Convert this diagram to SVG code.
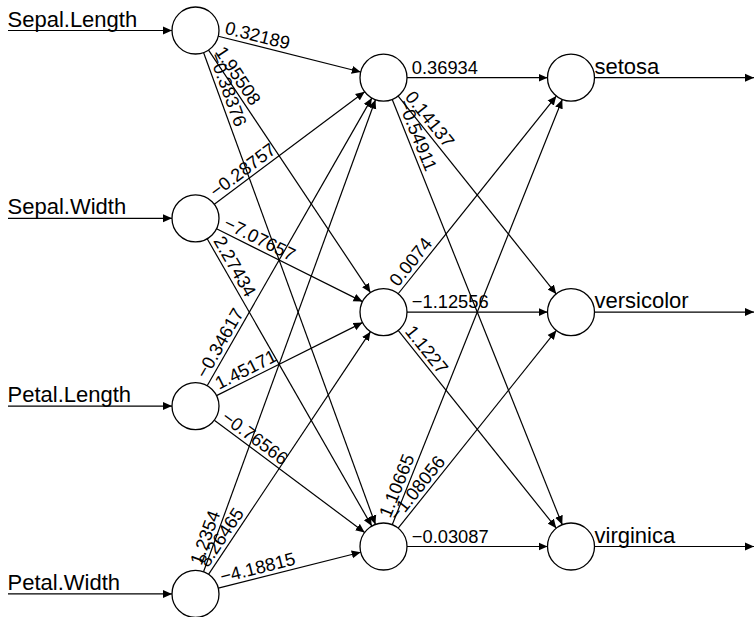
<svg xmlns="http://www.w3.org/2000/svg" width="754" height="617" viewBox="0 0 754 617">
<style>
.c{fill:#fff;stroke:#000;stroke-width:1.3}
.e{stroke:#000;stroke-width:1.2;fill:none;marker-end:url(#ah)}
.w{font-family:"Liberation Sans",Arial,sans-serif;font-size:18.3px;fill:#000}
.n{font-family:"Liberation Sans",Arial,sans-serif;font-size:22px;fill:#000}
</style>
<defs>
<marker id="ah" markerWidth="10" markerHeight="9" refX="9" refY="4.5" orient="auto" markerUnits="userSpaceOnUse"><path d="M0,0.5 L9,4.5 L0,8.5 z" fill="#000"/></marker>
</defs>
<rect width="754" height="617" fill="#fff"/>
<g id="connectors">
<line class="e" x1="8" y1="30.5" x2="172" y2="30.5"/>
<line class="e" x1="8" y1="218.3" x2="172" y2="218.3"/>
<line class="e" x1="8" y1="406.1" x2="172" y2="406.1"/>
<line class="e" x1="8" y1="593.9" x2="172" y2="593.9"/>
<line class="e" x1="218.29" y1="36.22" x2="360.71" y2="71.98"/>
<line class="e" x1="208.55" y1="50.05" x2="370.45" y2="292.55"/>
<line class="e" x1="203.54" y1="52.58" x2="375.46" y2="524.42"/>
<line class="e" x1="214.32" y1="204.23" x2="364.68" y2="91.77"/>
<line class="e" x1="216.53" y1="228.79" x2="362.47" y2="301.61"/>
<line class="e" x1="207.18" y1="238.69" x2="371.82" y2="526.11"/>
<line class="e" x1="207.18" y1="385.71" x2="371.82" y2="98.09"/>
<line class="e" x1="216.52" y1="395.59" x2="362.48" y2="322.61"/>
<line class="e" x1="214.33" y1="420.16" x2="364.67" y2="532.44"/>
<line class="e" x1="203.54" y1="571.82" x2="375.46" y2="99.78"/>
<line class="e" x1="208.54" y1="574.35" x2="370.46" y2="331.65"/>
<line class="e" x1="218.29" y1="588.15" x2="360.71" y2="552.25"/>
<line class="e" x1="407" y1="77.7" x2="547.5" y2="77.7"/>
<line class="e" x1="398.18" y1="96.05" x2="556.32" y2="294.05"/>
<line class="e" x1="392.23" y1="99.52" x2="562.27" y2="524.68"/>
<line class="e" x1="398.18" y1="293.75" x2="556.32" y2="96.05"/>
<line class="e" x1="407" y1="312.1" x2="547.5" y2="312.1"/>
<line class="e" x1="398.18" y1="330.45" x2="556.32" y2="528.15"/>
<line class="e" x1="392.23" y1="524.68" x2="562.27" y2="99.52"/>
<line class="e" x1="398.18" y1="528.15" x2="556.32" y2="330.45"/>
<line class="e" x1="407" y1="546.5" x2="547.5" y2="546.5"/>
<line class="e" x1="594.5" y1="77.7" x2="754" y2="77.7"/>
<line class="e" x1="594.5" y1="312.1" x2="754" y2="312.1"/>
<line class="e" x1="594.5" y1="546.5" x2="754" y2="546.5"/>
<g class="w">
<text transform="translate(195.5,30.5) rotate(14.09)" x="28.3" y="-4">0.32189</text>
<text transform="translate(195.5,30.5) rotate(56.27)" x="28.3" y="-4">1.95508</text>
<text transform="translate(195.5,30.5) rotate(69.98)" x="28.3" y="-4">−0.38376</text>
<text transform="translate(195.5,218.3) rotate(-36.79)" x="28.3" y="-4">−0.28757</text>
<text transform="translate(195.5,218.3) rotate(26.52)" x="28.3" y="-4">−7.07657</text>
<text transform="translate(195.5,218.3) rotate(60.20)" x="28.3" y="-4">2.27434</text>
<text transform="translate(195.5,406.1) rotate(-60.21)" x="28.3" y="-4">−0.34617</text>
<text transform="translate(195.5,406.1) rotate(-26.57)" x="28.3" y="-4">1.45171</text>
<text transform="translate(195.5,406.1) rotate(36.75)" x="28.3" y="-4">−0.76566</text>
<text transform="translate(195.5,593.9) rotate(-69.99)" x="28.3" y="-4">1.2354</text>
<text transform="translate(195.5,593.9) rotate(-56.29)" x="28.3" y="-4">8.26465</text>
<text transform="translate(195.5,593.9) rotate(-14.15)" x="28.3" y="-4">−4.18815</text>
<text transform="translate(383.5,77.7)" x="28.3" y="-4">0.36934</text>
<text transform="translate(383.5,77.7) rotate(51.34)" x="28.3" y="-4">0.14137</text>
<text transform="translate(383.5,77.7) rotate(68.20)" x="28.3" y="-4">−0.54911</text>
<text transform="translate(383.5,312.1) rotate(-51.34)" x="28.3" y="-4">0.0074</text>
<text transform="translate(383.5,312.1)" x="28.3" y="-4">−1.12556</text>
<text transform="translate(383.5,312.1) rotate(51.34)" x="28.3" y="-4">1.1227</text>
<text transform="translate(383.5,546.5) rotate(-68.20)" x="28.3" y="-4">1.10665</text>
<text transform="translate(383.5,546.5) rotate(-51.34)" x="28.3" y="-4">−1.08056</text>
<text transform="translate(383.5,546.5)" x="28.3" y="-4">−0.03087</text>
</g>
</g>
<g id="in-sepal-length"><circle class="c" cx="195.5" cy="30.5" r="23.5"/><text class="n" x="7.5" y="26.5">Sepal.Length</text></g>
<g id="in-sepal-width"><circle class="c" cx="195.5" cy="218.3" r="23.5"/><text class="n" x="7.5" y="214.3">Sepal.Width</text></g>
<g id="in-petal-length"><circle class="c" cx="195.5" cy="406.1" r="23.5"/><text class="n" x="7.5" y="402.1">Petal.Length</text></g>
<g id="in-petal-width"><circle class="c" cx="195.5" cy="593.9" r="23.5"/><text class="n" x="7.5" y="589.9">Petal.Width</text></g>
<g id="hidden-1"><circle class="c" cx="383.5" cy="77.7" r="23.5"/></g>
<g id="hidden-2"><circle class="c" cx="383.5" cy="312.1" r="23.5"/></g>
<g id="hidden-3"><circle class="c" cx="383.5" cy="546.5" r="23.5"/></g>
<g id="out-setosa"><circle class="c" cx="571" cy="77.7" r="23.5"/><text class="n" x="594.5" y="73.7">setosa</text></g>
<g id="out-versicolor"><circle class="c" cx="571" cy="312.1" r="23.5"/><text class="n" x="594.5" y="308.1">versicolor</text></g>
<g id="out-virginica"><circle class="c" cx="571" cy="546.5" r="23.5"/><text class="n" x="594.5" y="542.5">virginica</text></g>
</svg>
